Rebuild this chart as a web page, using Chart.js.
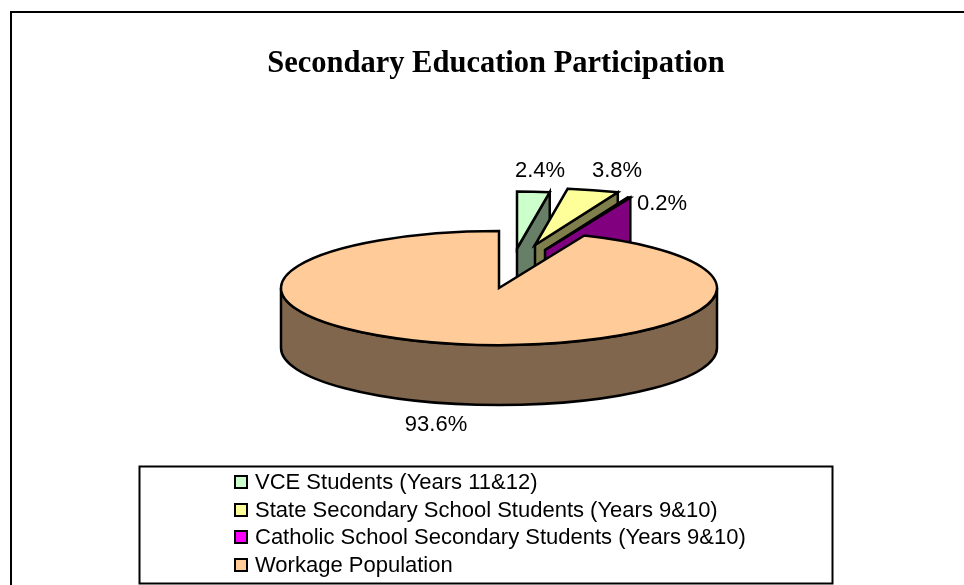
<!DOCTYPE html>
<html>
<head>
<meta charset="utf-8">
<style>html,body{margin:0;padding:0;background:#fff}canvas{display:block}</style>
<script src="https://cdn.jsdelivr.net/npm/chart.js@4/dist/chart.umd.min.js"></script>
</head>
<body>
<div style="width:964px;height:585px"><canvas id="c" width="964" height="585"></canvas></div>
<script>
const categories = ["VCE Students (Years 11&12)", "State Secondary School Students (Years 9&10)", "Catholic School Secondary Students (Years 9&10)", "Workage Population"];
const shares = [2.4, 3.8, 0.2, 93.6];
const topColours = ["#CCFFCC", "#FFFF99", "#FF00FF", "#FFCC99"];
const wallColours = ["#667F66", "#7F7F4C", "#800080", "#7F664D"];
const titleText = "Secondary Education Participation";

const CX = 499, CY = 288, RX = 218, RY = 57, DEPTH = 60;
const explodeX = [18, 36, 46, 0], explodeY = [-39.5, -43, -38, 0];
const labelX = [540, 617, 662, 436], labelY = [171, 171, 204, 425];

const pie3d = {
  id: 'pie3d',
  beforeDraw(chart) {
    const ctx = chart.ctx;
    ctx.save();
    ctx.strokeStyle = '#000';
    ctx.lineWidth = 2;
    ctx.strokeRect(11, 12, 1000, 1000);
    ctx.restore();
  },
  beforeDatasetDraw(chart, args) {
    const ctx = chart.ctx, arcs = args.meta.data, area = chart.chartArea;
    const geom = arcs.map((arc, i) => {
      const p = arc.getProps(['x', 'y', 'startAngle', 'endAngle', 'outerRadius'], true);
      return {arc, p, cx: CX + explodeX[i], cy: CY + explodeY[i]};
    });
    const k = RY / RX;
    ctx.save();
    ctx.lineWidth = 2.5;
    ctx.lineJoin = 'miter';
    ctx.strokeStyle = '#000';
    // cut faces of the exploded slices
    geom.forEach((g, i) => {
      if (i === geom.length - 1) return;
      const a = g.p.endAngle;
      const px = g.cx + g.p.outerRadius * Math.cos(a), py = g.cy + g.p.outerRadius * k * Math.sin(a);
      ctx.beginPath();
      ctx.moveTo(g.cx, g.cy);
      ctx.lineTo(px, py);
      ctx.lineTo(px, py + DEPTH);
      ctx.lineTo(g.cx, g.cy + DEPTH);
      ctx.closePath();
      ctx.fillStyle = wallColours[i];
      ctx.fill();
      ctx.stroke();
    });
    // outer wall of the large slice
    const big = geom[geom.length - 1], R = big.p.outerRadius;
    ctx.beginPath();
    ctx.moveTo(big.cx + R, big.cy);
    ctx.lineTo(big.cx + R, big.cy + DEPTH);
    ctx.ellipse(big.cx, big.cy + DEPTH, R, R * k, 0, 0, Math.PI);
    ctx.lineTo(big.cx - R, big.cy);
    ctx.ellipse(big.cx, big.cy, R, R * k, 0, Math.PI, 0, true);
    ctx.closePath();
    ctx.fillStyle = wallColours[wallColours.length - 1];
    ctx.fill();
    ctx.stroke();
    // top faces: library arcs, foreshortened
    geom.forEach(g => {
      ctx.save();
      ctx.translate(g.cx, g.cy);
      ctx.scale(1, k);
      ctx.translate(-g.p.x, -g.p.y);
      g.arc.draw(ctx, area);
      ctx.restore();
      ctx.beginPath();
      ctx.moveTo(g.cx, g.cy);
      ctx.ellipse(g.cx, g.cy, g.p.outerRadius, g.p.outerRadius * k, 0, g.p.startAngle, g.p.endAngle);
      ctx.closePath();
      ctx.stroke();
    });
    ctx.restore();
    return false;
  },
  afterDraw(chart) {
    const ctx = chart.ctx;
    ctx.save();
    ctx.fillStyle = '#000';
    ctx.textBaseline = 'middle';
    ctx.textAlign = 'center';
    ctx.font = '22px "Liberation Sans"';
    shares.forEach((v, i) => ctx.fillText(v.toFixed(1) + '%', labelX[i], labelY[i]));
    // legend
    ctx.lineWidth = 2;
    ctx.strokeStyle = '#000';
    ctx.strokeRect(139.5, 466.5, 693, 117);
    const rowY = [483, 511, 538, 566];
    ctx.textAlign = 'left';
    ctx.font = '22px "Liberation Sans"';
    categories.forEach((name, i) => {
      ctx.fillStyle = topColours[i];
      ctx.fillRect(235, rowY[i] - 7, 12, 12);
      ctx.strokeRect(235, rowY[i] - 7, 12, 12);
      ctx.fillStyle = '#000';
      ctx.fillText(name, 255, rowY[i]);
    });
    ctx.restore();
  }
};

new Chart(document.getElementById('c'), {
  type: 'pie',
  data: {
    labels: categories,
    datasets: [{data: shares, backgroundColor: topColours, borderWidth: 0, radius: RX}]
  },
  options: {
    responsive: false,
    animation: false,
    rotation: 0,
    layout: {padding: {left: 28, top: 0}},
    plugins: {
      legend: {display: false},
      tooltip: {enabled: false},
      title: {
        display: true,
        text: titleText,
        color: '#000',
        font: {family: '"Liberation Serif"', size: 30.5, weight: 'bold'},
        padding: {top: 46, bottom: 0}
      }
    }
  },
  plugins: [pie3d]
});
</script>
</body>
</html>
